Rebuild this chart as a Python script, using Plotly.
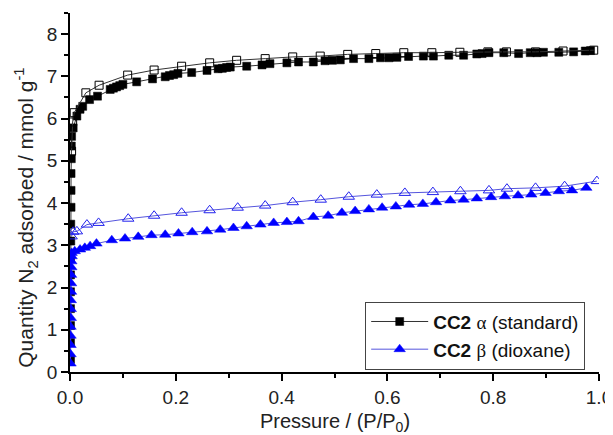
import plotly.graph_objects as go

# CC2 alpha (standard) – adsorption (filled squares)
a_ads_x = [0.001, 0.001, 0.001, 0.001, 0.001, 0.001, 0.001, 0.0015, 0.0015, 0.002, 0.002, 0.002, 0.0025, 0.0025,
           0.003, 0.006, 0.013, 0.019, 0.024, 0.037, 0.052, 0.076, 0.082, 0.088, 0.094, 0.1, 0.126, 0.156,
           0.18, 0.188, 0.196, 0.204, 0.23, 0.259, 0.28, 0.288, 0.296, 0.303, 0.334, 0.363, 0.378, 0.41, 0.432,
           0.46, 0.482, 0.496, 0.511, 0.536, 0.565, 0.587, 0.603, 0.618, 0.64, 0.668, 0.687, 0.716, 0.744,
           0.769, 0.779, 0.792, 0.82, 0.848, 0.87, 0.883, 0.895, 0.924, 0.952, 0.974, 0.984]
a_ads_y = [0.3, 0.7, 1.1, 1.5, 1.9, 2.3, 2.7, 3.1, 3.5, 3.9, 4.3, 4.7, 5.05, 5.35,
           5.58, 5.78, 6.06, 6.22, 6.29, 6.45, 6.53, 6.69, 6.72, 6.75, 6.78, 6.81, 6.87, 6.94,
           6.99, 7.02, 7.04, 7.07, 7.09, 7.14, 7.18, 7.19, 7.21, 7.22, 7.24, 7.27, 7.30, 7.32, 7.34,
           7.34, 7.37, 7.38, 7.39, 7.42, 7.42, 7.44, 7.44, 7.45, 7.47, 7.48, 7.48, 7.50, 7.50,
           7.53, 7.54, 7.56, 7.56, 7.54, 7.56, 7.56, 7.57, 7.57, 7.58, 7.60, 7.61]

# CC2 alpha (standard) – desorption (open squares)
a_des_x = [0.99, 0.932, 0.88, 0.825, 0.79, 0.737, 0.684, 0.631, 0.578, 0.525, 0.473, 0.421, 0.369,
           0.315, 0.264, 0.211, 0.159, 0.109, 0.055, 0.03, 0.008, 0.005, 0.003]
a_des_y = [7.62, 7.60, 7.58, 7.58, 7.58, 7.57, 7.56, 7.56, 7.54, 7.52, 7.48, 7.46, 7.42,
           7.38, 7.32, 7.24, 7.15, 7.03, 6.79, 6.61, 6.14, 5.92, 5.23]

# CC2 beta (dioxane) – adsorption (filled triangles)
b_ads_x = [0.001, 0.001, 0.001, 0.001, 0.001, 0.0015, 0.0015, 0.0015, 0.002, 0.002, 0.002, 0.0025, 0.0025, 0.003,
           0.003, 0.009, 0.019, 0.028, 0.038, 0.05, 0.079, 0.104, 0.129, 0.154, 0.18, 0.205, 0.231, 0.259,
           0.284, 0.309, 0.334, 0.36, 0.385, 0.41, 0.432, 0.46, 0.488, 0.514, 0.539, 0.565, 0.59, 0.616,
           0.641, 0.667, 0.692, 0.719, 0.744, 0.769, 0.796, 0.822, 0.847, 0.872, 0.899, 0.924, 0.949, 0.976]
b_ads_y = [0.2, 0.42, 0.64, 0.86, 1.07, 1.28, 1.49, 1.7, 1.9, 2.1, 2.3, 2.48, 2.62, 2.74,
           2.82, 2.86, 2.90, 2.94, 2.98, 3.04, 3.12, 3.16, 3.20, 3.24, 3.25, 3.28, 3.31, 3.33,
           3.37, 3.41, 3.45, 3.49, 3.53, 3.55, 3.57, 3.67, 3.70, 3.77, 3.81, 3.85, 3.89, 3.92,
           3.96, 3.98, 4.02, 4.06, 4.08, 4.11, 4.14, 4.16, 4.18, 4.20, 4.24, 4.28, 4.30, 4.36]

# CC2 beta (dioxane) – desorption (open triangles)
b_des_x = [0.996, 0.935, 0.88, 0.826, 0.792, 0.738, 0.686, 0.633, 0.58, 0.527, 0.474, 0.421, 0.369,
           0.317, 0.264, 0.211, 0.159, 0.11, 0.054, 0.032, 0.013, 0.006, 0.003]
b_des_y = [4.52, 4.40, 4.36, 4.34, 4.30, 4.28, 4.26, 4.24, 4.20, 4.15, 4.08, 4.02, 3.94,
           3.89, 3.83, 3.77, 3.70, 3.63, 3.53, 3.49, 3.33, 3.32, 3.21]

x_ticks = [0.0, 0.2, 0.4, 0.6, 0.8, 1.0]
x_tick_labels = ["0.0", "0.2", "0.4", "0.6", "0.8", "1.0"]
y_ticks = [0, 1, 2, 3, 4, 5, 6, 7, 8]

FONT = "Liberation Sans, Arial, sans-serif"
SERIF = "Liberation Serif, Times New Roman, serif"

fig = go.Figure()
fig.add_trace(go.Scatter(
    x=a_ads_x, y=a_ads_y, mode="lines+markers",
    name="<b>CC2</b> <span style='font-family:%s'>α</span> (standard)" % SERIF,
    line=dict(color="#333333", width=1),
    marker=dict(symbol="square", size=8, color="black", line=dict(color="black", width=0.5)),
))
fig.add_trace(go.Scatter(
    x=a_des_x, y=a_des_y, mode="lines+markers", showlegend=False,
    line=dict(color="#333333", width=1),
    marker=dict(symbol="square-open", size=8, color="black", line=dict(color="black", width=1)),
))
fig.add_trace(go.Scatter(
    x=b_des_x, y=b_des_y, mode="lines+markers", showlegend=False,
    line=dict(color="#5555dd", width=1),
    marker=dict(symbol="triangle-up-open", size=10, color="#2222ee", line=dict(color="#2222ee", width=1)),
))
fig.add_trace(go.Scatter(
    x=b_ads_x, y=b_ads_y, mode="lines+markers",
    name="<b>CC2</b> <span style='font-family:%s'>β</span> (dioxane)" % SERIF,
    line=dict(color="#5555dd", width=1),
    marker=dict(symbol="triangle-up", size=10, color="#0000ff", line=dict(color="#0000ff", width=0.5)),
))

axis_common = dict(
    showline=True, linecolor="black", linewidth=1.5, mirror=False,
    ticks="outside", ticklen=7, tickwidth=1.5, tickcolor="black",
    showgrid=False, zeroline=False, automargin=False, ticklabeloverflow="allow",
    tickfont=dict(family=FONT, size=19, color="#222222"),
)

# page has an 8px body margin, so the figure is 8px smaller than the window
fig.update_layout(
    width=605, height=427,
    margin=dict(l=62, r=14, t=5, b=63),
    paper_bgcolor="white", plot_bgcolor="white",
    font=dict(family=FONT, color="#222222"),
    xaxis=dict(
        range=[0, 1.0], tickvals=x_ticks, ticktext=x_tick_labels,
        minor=dict(dtick=0.1, tick0=0, ticks="outside", ticklen=4, tickwidth=1.5, tickcolor="black"),
        **axis_common,
    ),
    yaxis=dict(
        range=[0, 8.5], tickvals=y_ticks,
        minor=dict(dtick=0.5, tick0=0, ticks="outside", ticklen=4, tickwidth=1.5, tickcolor="black"),
        **axis_common,
    ),
    legend=dict(
        x=0.558, y=0.196, xanchor="left", yanchor="top",
        bordercolor="#444444", borderwidth=1, bgcolor="white",
        font=dict(family=FONT, size=19, color="#111111"),
        tracegroupgap=0, itemwidth=57,
    ),
    annotations=[
        dict(
            text="Quantity N<sub>2</sub> adsorbed / mmol g<sup>-1</sup>",
            xref="paper", yref="paper", x=-0.083, y=0.43,
            xanchor="center", yanchor="middle", textangle=-90, showarrow=False,
            font=dict(family=FONT, size=21, color="#222222"),
        ),
        dict(
            text="Pressure / (P/P<sub>0</sub>)",
            xref="paper", yref="paper", x=0.5, y=-0.142,
            xanchor="center", yanchor="middle", showarrow=False,
            font=dict(family=FONT, size=20, color="#222222"),
        ),
    ],
)

fig.write_html("out.html")
